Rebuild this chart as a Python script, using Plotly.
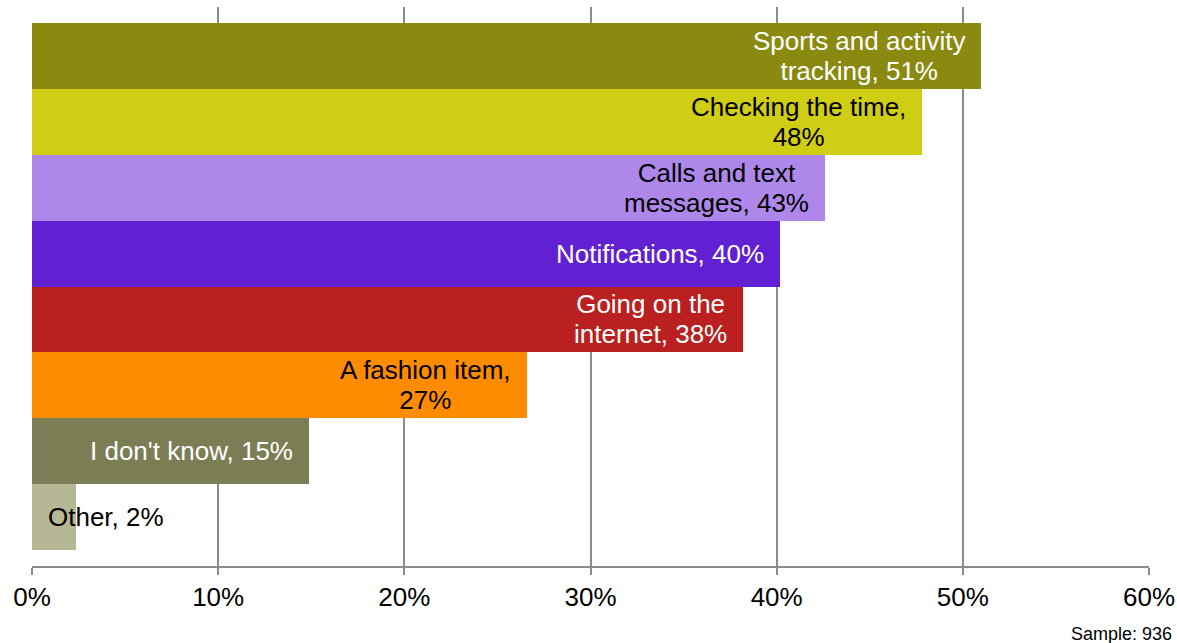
import plotly.graph_objects as go

# Share of respondents (%) for each intended smartwatch use, top to bottom
categories = [
    "Sports and activity tracking",
    "Checking the time",
    "Calls and text messages",
    "Notifications",
    "Going on the internet",
    "A fashion item",
    "I don't know",
    "Other",
]
values = [50.97, 47.8, 42.6, 40.2, 38.2, 26.6, 14.9, 2.36]

# Data-label wording: leading text and the separator placed before the percentage
label_heads = [
    "Sports and activity<br>tracking",
    "Checking the time",
    "Calls and text<br>messages",
    "Notifications",
    "Going on the<br>internet",
    "A fashion item",
    "I don't know",
    "Other",
]
label_seps = [", ", ",<br>", ", ", ", ", ", ", ",<br>", ", ", ", "]

colors = [
    "#8a8a10",
    "#cfcd14",
    "#ad88ea",
    "#6120d2",
    "#bb2020",
    "#ff8c00",
    "#7b7d55",
    "#b5b795",
]
label_colors = ["white", "black", "black", "white", "white", "black", "white", "black"]

x_ticks = [0, 10, 20, 30, 40, 50, 60]
x_tick_text = [f"{t}%" for t in x_ticks]

FONT = "Liberation Sans, Arial, sans-serif"
GRID = "#8c8c8c"
LABEL_PX = 26  # glyph size of the data labels
LINE_BASE = 23  # base size that sets the (tighter) line spacing

n = len(categories)
ypos = list(range(n))

fig = go.Figure(
    go.Bar(
        x=values,
        y=ypos,
        orientation="h",
        marker=dict(color=colors, line=dict(width=0)),
        width=1.0,
        hoverinfo="skip",
    )
)


def styled(text):
    lines = text.split("<br>")
    return "<br>".join(f'<span style="font-size:{LABEL_PX}px">{ln}</span>' for ln in lines)


# Data labels sit just inside the end of each bar; the tiny last bar gets its label from the left edge
for i, (v, head, sep, col) in enumerate(zip(values, label_heads, label_seps, label_colors)):
    text = styled(f"{head}{sep}{v:.0f}%")
    if v < 5:
        fig.add_annotation(
            x=0, y=i, xref="x", yref="y", text=text, showarrow=False,
            xanchor="left", yanchor="middle", xshift=14, align="left",
            font=dict(family=FONT, size=LINE_BASE, color=col),
        )
    else:
        fig.add_annotation(
            x=v, y=i, xref="x", yref="y", text=text, showarrow=False,
            xanchor="right", yanchor="middle", xshift=-14, align="center",
            font=dict(family=FONT, size=LINE_BASE, color=col),
        )

fig.add_annotation(
    x=1.0, y=0, xref="paper", yref="paper", text="Sample: 936", showarrow=False,
    xanchor="right", yanchor="top", xshift=25, yshift=-56,
    font=dict(family=FONT, size=18, color="black"),
)

fig.update_layout(
    width=1177,
    height=643,
    margin=dict(l=32, r=28, t=7, b=77, autoexpand=False),
    paper_bgcolor="white",
    plot_bgcolor="white",
    showlegend=False,
    bargap=0,
    xaxis=dict(
        range=[0, 60],
        tickvals=x_ticks,
        ticktext=x_tick_text,
        showgrid=True,
        gridcolor=GRID,
        gridwidth=1.5,
        zeroline=False,
        showline=True,
        linecolor=GRID,
        linewidth=1.5,
        ticks="outside",
        ticklen=7,
        tickcolor=GRID,
        tickwidth=1.5,
        tickfont=dict(family=FONT, size=26, color="black"),
        automargin=False,
        fixedrange=True,
    ),
    yaxis=dict(
        range=[n - 0.5 + 0.25, -0.5 - 0.25],
        showticklabels=False,
        showgrid=False,
        zeroline=False,
        showline=False,
        ticks="",
        automargin=False,
        fixedrange=True,
    ),
)

fig.write_html("out.html")
